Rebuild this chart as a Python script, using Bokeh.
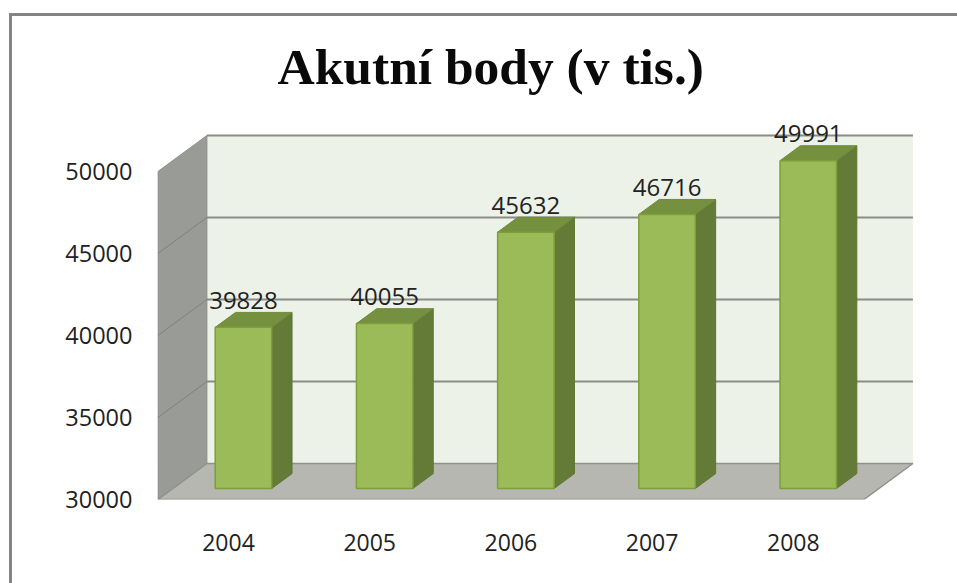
from bokeh.plotting import figure
from bokeh.embed import file_html
from bokeh.resources import INLINE
from bokeh.models import FixedTicker, Range1d
from bokeh.core.properties import value

title_text = "Akutní body (v tis.)"
years = ["2004", "2005", "2006", "2007", "2008"]
points = [39828, 40055, 45632, 46716, 49991]
ticks = [30000, 35000, 40000, 45000, 50000]

# oblique projection: moving one unit of depth shifts by DX categories and DY value units
DX, DY = 0.347, 2195
Z0, Z1 = 0.305, 0.72   # bar depth span
HW = 0.2               # half bar width
PX_X, PX_Y = 141.2, 16.4 / 1000

def proj(i, z, v):
    return i + z * DX, v + z * DY

def poly(*corners):
    pts = [proj(*c) for c in corners]
    return [a for a, _ in pts], [b for _, b in pts]

FRAME_TOP, FRAME_BOTTOM, FRAME_LEFT, FRAME_RIGHT = 96, 499, 157, 957
OX, OY = 12, 16   # page position of the canvas, inside the picture's own border
PAGE_W, PAGE_H = 957, 583
x0 = -0.5 - 0.003
x1 = x0 + (FRAME_RIGHT - FRAME_LEFT) / PX_X
y1 = 30000 + (FRAME_BOTTOM - FRAME_TOP) / PX_Y

p = figure(width=PAGE_W - OX, height=PAGE_H - OY, output_backend="svg", toolbar_location=None,
           x_range=Range1d(x0, x1), y_range=Range1d(30000, y1),
           frame_width=FRAME_RIGHT - FRAME_LEFT, frame_height=FRAME_BOTTOM - FRAME_TOP,
           min_border_left=FRAME_LEFT - OX, min_border_right=0,
           min_border_top=FRAME_TOP - OY, min_border_bottom=PAGE_H - FRAME_BOTTOM,
           title=title_text)
p.outline_line_color = None
p.grid.visible = False
p.background_fill_color = "white"
p.styles = {"border-top": "3px solid #858585", "border-left": "3px solid #858585",
            "margin-top": "13px", "margin-left": "9px", "box-sizing": "content-box"}

p.title.text_font = "Liberation Serif"
p.title.text_font_size = "51.5px"
p.title.text_font_style = "bold"
p.title.text_color = "#0a0a0a"
p.title.align = "left"
p.title.offset = 120
p.title.standoff = 4

# axes
p.yaxis.ticker = FixedTicker(ticks=ticks)
p.xaxis.ticker = FixedTicker(ticks=list(range(len(years))))
p.xaxis.major_label_overrides = {i: y for i, y in enumerate(years)}
p.yaxis.major_label_overrides = {t: str(t) for t in ticks}
for ax in (p.xaxis, p.yaxis):
    ax.axis_line_color = None
    ax.major_tick_line_color = None
    ax.minor_tick_line_color = None
    ax.major_label_text_font = "Open Sans"
    ax.major_label_text_color = "#222222"
p.xaxis.major_label_text_font_size = "23px"
p.yaxis.major_label_text_font_size = "23.5px"
p.xaxis.major_label_standoff = 28
p.yaxis.major_label_standoff = 19

# walls and floor
xl, xr, vb, vt = -0.5, 4.5, ticks[0], ticks[-1]
wx, wy = poly((xl, 1, vb), (xr, 1, vb), (xr, 1, vt), (xl, 1, vt))
p.patch(wx, wy, fill_color="#EDF2E9", line_color=None)
wx, wy = poly((xl, 0, vb), (xl, 1, vb), (xl, 1, vt), (xl, 0, vt))
p.patch(wx, wy, fill_color="#999B96", line_color="#8E908B", line_width=1)
wx, wy = poly((xl, 0, vb), (xr, 0, vb), (xr, 1, vb), (xl, 1, vb))
p.patch(wx, wy, fill_color="#B5B7B0", line_color="#8F918C", line_width=1.5)

# gridlines
gx, gy, sx, sy = [], [], [], []
for t in ticks[1:]:
    a, b = proj(xl, 1, t), proj(xr, 1, t)
    gx.append([a[0], b[0]]); gy.append([a[1], b[1]])
for t in ticks[1:-1]:
    a, b = proj(xl, 0, t), proj(xl, 1, t)
    sx.append([a[0], b[0]]); sy.append([a[1], b[1]])
p.multi_line(gx, gy, line_color="#8A8C87", line_width=2)
p.multi_line(sx, sy, line_color="#7F817C", line_width=1)

# bars
fx, fy, tx, ty, rx, ry = [], [], [], [], [], []
for i, v in enumerate(points):
    a, b = poly((i - HW, Z0, vb), (i + HW, Z0, vb), (i + HW, Z0, v), (i - HW, Z0, v))
    fx.append(a); fy.append(b)
    a, b = poly((i - HW, Z0, v), (i + HW, Z0, v), (i + HW, Z1, v), (i - HW, Z1, v))
    tx.append(a); ty.append(b)
    a, b = poly((i + HW, Z0, vb), (i + HW, Z1, vb), (i + HW, Z1, v), (i + HW, Z0, v))
    rx.append(a); ry.append(b)
p.patches(rx, ry, fill_color="#647B37", line_color="#5F7634", line_width=1)
p.patches(tx, ty, fill_color="#75913F", line_color="#6F8A3B", line_width=1)
p.patches(fx, fy, fill_color="#9BBB59", line_color="#7E9E3A", line_width=1.5)

# data labels
lx = [proj(i, Z0, v)[0] for i, v in enumerate(points)]
ly = [proj(i, Z0, v)[1] + 27 / PX_Y for i, v in enumerate(points)]
p.text(lx, ly, text=[str(v) for v in points], text_align="center", text_baseline="middle",
       text_font=value("Open Sans"), text_font_size="24px", text_color="#222222")

open("out.html", "w").write(file_html(p, INLINE))
